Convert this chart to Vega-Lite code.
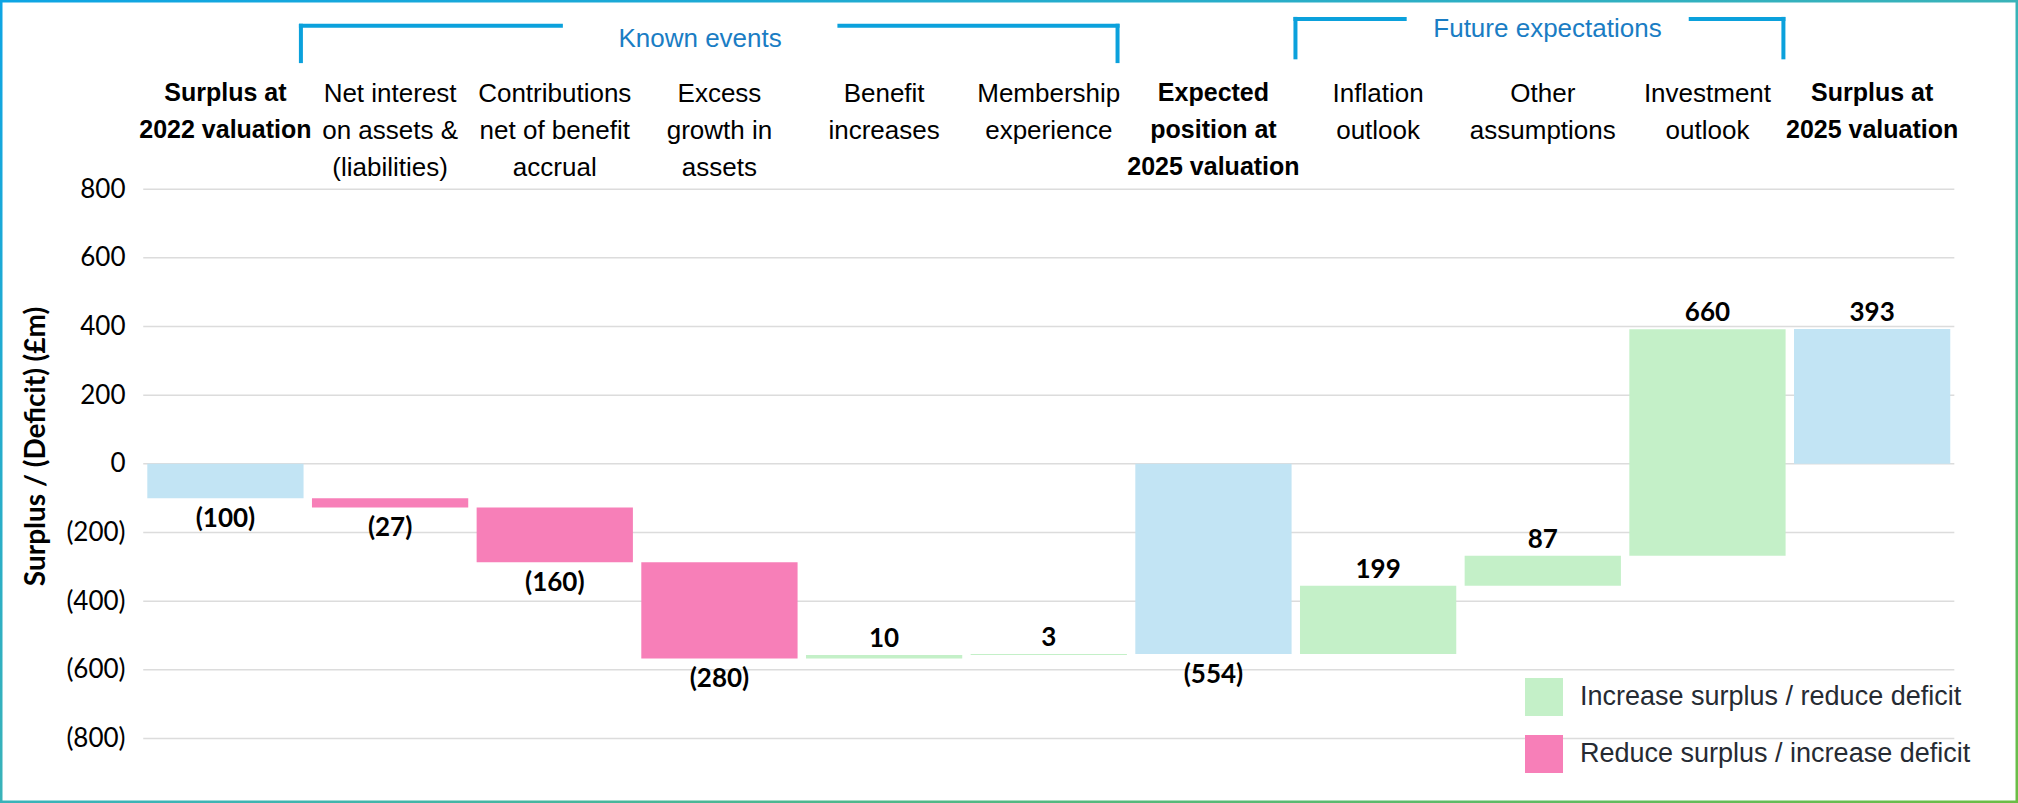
{
  "$schema": "https://vega.github.io/schema/vega-lite/v6.json",
  "width": 2018,
  "height": 803,
  "autosize": {"type": "none"},
  "padding": 0,
  "background": "white",
  "view": {
    "stroke": {"gradient": "linear", "x1": 0, "y1": 0, "x2": 1, "y2": 1,
      "stops": [{"offset": 0, "color": "#0ea5e4"}, {"offset": 0.55, "color": "#3db4b4"}, {"offset": 1, "color": "#6cbd45"}]},
    "strokeWidth": 5
  },
  "config": {"axisX": {"disable": true}},
  "datasets": {
    "steps": [
      {"cat": "Surplus at|2022 valuation", "start": 0, "end": -100, "value": -100, "type": "total"},
      {"cat": "Net interest|on assets &|(liabilities)", "start": -100, "end": -127, "value": -27, "type": "decrease"},
      {"cat": "Contributions|net of benefit|accrual", "start": -127, "end": -287, "value": -160, "type": "decrease"},
      {"cat": "Excess|growth in|assets", "start": -287, "end": -567, "value": -280, "type": "decrease"},
      {"cat": "Benefit|increases", "start": -567, "end": -557, "value": 10, "type": "increase"},
      {"cat": "Membership|experience", "start": -557, "end": -554, "value": 3, "type": "increase"},
      {"cat": "Expected|position at|2025 valuation", "start": 0, "end": -554, "value": -554, "type": "total"},
      {"cat": "Inflation|outlook", "start": -554, "end": -355, "value": 199, "type": "increase"},
      {"cat": "Other|assumptions", "start": -355, "end": -268, "value": 87, "type": "increase"},
      {"cat": "Investment|outlook", "start": -268, "end": 392, "value": 660, "type": "increase"},
      {"cat": "Surplus at|2025 valuation", "start": 0, "end": 393, "value": 393, "type": "total"}
    ],
    "grid": [{"g": -800}, {"g": -600}, {"g": -400}, {"g": -200}, {"g": 0}, {"g": 200}, {"g": 400}, {"g": 600}, {"g": 800}]
  },
  "data": {"name": "steps"},
  "layer": [
    {
      "data": {"name": "grid"},
      "mark": {"type": "rule", "color": "#dcdcdc", "strokeWidth": 1.5},
      "encoding": {
        "x": {"datum": "Surplus at|2022 valuation", "type": "nominal", "bandPosition": -0.026},
        "x2": {"datum": "Surplus at|2025 valuation", "bandPosition": 1.026},
        "y": {"field": "g", "type": "quantitative"}
      }
    },
    {
      "mark": {"type": "bar"},
      "encoding": {
        "x": {"field": "cat", "type": "nominal", "axis": null,
          "scale": {"domain": ["Surplus at|2022 valuation", "Net interest|on assets &|(liabilities)", "Contributions|net of benefit|accrual", "Excess|growth in|assets", "Benefit|increases", "Membership|experience", "Expected|position at|2025 valuation", "Inflation|outlook", "Other|assumptions", "Investment|outlook", "Surplus at|2025 valuation"],
            "paddingInner": 0.051, "paddingOuter": 0.6529, "align": 0.685}},
        "y": {"field": "start", "type": "quantitative",
          "scale": {"domain": [-988, 1351], "nice": false, "zero": false},
          "axis": {"title": "Surplus / (Deficit) (£m)", "values": [-800, -600, -400, -200, 0, 200, 400, 600, 800],
            "labelExpr": "datum.value < 0 ? '(' + (-datum.value) + ')' : '' + datum.value",
            "offset": -143, "grid": false, "domain": false, "ticks": false, "tickSize": 0, "labelPadding": 18,
            "labelFont": "Lato", "labelFontSize": 26, "labelColor": "#000000",
            "titleFont": "Lato", "titleFontSize": 28, "titleFontWeight": "bold", "titleColor": "#000000",
            "titleX": -107, "titleY": 446, "titleAngle": 270, "titleAlign": "center", "titleBaseline": "middle"}},
        "y2": {"field": "end"},
        "color": {"field": "type", "type": "nominal",
          "scale": {"domain": ["total", "increase", "decrease"], "range": ["#c2e4f4", "#c4f0c8", "#f77fb8"]},
          "legend": {"values": ["increase", "decrease"], "orient": "none", "legendX": 1525, "legendY": 678, "title": null,
            "symbolType": "square", "symbolSize": 1444, "symbolStrokeWidth": 0, "symbolOpacity": 1,
            "labelFont": "Liberation Sans", "labelFontSize": 27, "labelColor": "#262b33", "labelOffset": 17,
            "rowPadding": 19, "padding": 0, "labelLimit": 600,
            "labelExpr": "datum.value == 'increase' ? 'Increase surplus / reduce deficit' : 'Reduce surplus / increase deficit'"}}
      }
    },
    {
      "transform": [{"filter": "datum.value < 0"}, {"calculate": "'(' + (-datum.value) + ')'", "as": "label"}],
      "mark": {"type": "text", "font": "Lato", "fontWeight": "bold", "fontSize": 26, "baseline": "middle", "dy": 21, "color": "#000000"},
      "encoding": {
        "x": {"field": "cat", "type": "nominal"},
        "y": {"field": "end", "type": "quantitative"},
        "text": {"field": "label"}
      }
    },
    {
      "transform": [{"filter": "datum.value >= 0"}, {"calculate": "'' + datum.value", "as": "label"}],
      "mark": {"type": "text", "font": "Lato", "fontWeight": "bold", "fontSize": 26, "baseline": "middle", "dy": -16, "color": "#000000"},
      "encoding": {
        "x": {"field": "cat", "type": "nominal"},
        "y": {"field": "end", "type": "quantitative"},
        "text": {"field": "label"}
      }
    },
    {
      "transform": [{"filter": "datum.type != 'total'"}],
      "mark": {"type": "text", "font": "Liberation Sans", "fontSize": 26, "lineHeight": 37, "lineBreak": "|", "baseline": "top", "align": "center", "color": "#000000"},
      "encoding": {
        "x": {"field": "cat", "type": "nominal"},
        "y": {"datum": 1115, "type": "quantitative"},
        "text": {"field": "cat"}
      }
    },
    {
      "transform": [{"filter": "datum.type == 'total'"}],
      "mark": {"type": "text", "font": "Liberation Sans", "fontWeight": "bold", "fontSize": 25, "lineHeight": 37, "lineBreak": "|", "baseline": "top", "align": "center", "color": "#000000"},
      "encoding": {
        "x": {"field": "cat", "type": "nominal"},
        "y": {"datum": 1115, "type": "quantitative"},
        "text": {"field": "cat"}
      }
    },
    {
      "data": {"values": [{}]},
      "mark": {"type": "rule", "color": "#0ba1dc", "strokeWidth": 4, "strokeCap": "square"},
      "encoding": {
        "x": {"datum": "Surplus at|2022 valuation", "type": "nominal", "bandPosition": 0.983},
        "y": {"datum": 1276, "type": "quantitative"},
        "y2": {"datum": 1173}
      }
    },
    {
      "data": {"values": [{}]},
      "mark": {"type": "rule", "color": "#0ba1dc", "strokeWidth": 4, "strokeCap": "square"},
      "encoding": {
        "x": {"datum": "Surplus at|2022 valuation", "type": "nominal", "bandPosition": 0.983},
        "x2": {"datum": "Contributions|net of benefit|accrual", "bandPosition": 0.539},
        "y": {"datum": 1276, "type": "quantitative"}
      }
    },
    {
      "data": {"values": [{}]},
      "mark": {"type": "rule", "color": "#0ba1dc", "strokeWidth": 4, "strokeCap": "square"},
      "encoding": {
        "x": {"datum": "Benefit|increases", "type": "nominal", "bandPosition": 0.214},
        "x2": {"datum": "Membership|experience", "bandPosition": 0.94},
        "y": {"datum": 1276, "type": "quantitative"}
      }
    },
    {
      "data": {"values": [{}]},
      "mark": {"type": "rule", "color": "#0ba1dc", "strokeWidth": 4, "strokeCap": "square"},
      "encoding": {
        "x": {"datum": "Membership|experience", "type": "nominal", "bandPosition": 0.94},
        "y": {"datum": 1276, "type": "quantitative"},
        "y2": {"datum": 1173}
      }
    },
    {
      "data": {"values": [{}]},
      "mark": {"type": "rule", "color": "#0ba1dc", "strokeWidth": 4, "strokeCap": "square"},
      "encoding": {
        "x": {"datum": "Inflation|outlook", "type": "nominal", "bandPosition": -0.029},
        "y": {"datum": 1296, "type": "quantitative"},
        "y2": {"datum": 1184}
      }
    },
    {
      "data": {"values": [{}]},
      "mark": {"type": "rule", "color": "#0ba1dc", "strokeWidth": 4, "strokeCap": "square"},
      "encoding": {
        "x": {"datum": "Inflation|outlook", "type": "nominal", "bandPosition": -0.029},
        "x2": {"datum": "Inflation|outlook", "bandPosition": 0.67},
        "y": {"datum": 1296, "type": "quantitative"}
      }
    },
    {
      "data": {"values": [{}]},
      "mark": {"type": "rule", "color": "#0ba1dc", "strokeWidth": 4, "strokeCap": "square"},
      "encoding": {
        "x": {"datum": "Investment|outlook", "type": "nominal", "bandPosition": 0.393},
        "x2": {"datum": "Investment|outlook", "bandPosition": 0.986},
        "y": {"datum": 1296, "type": "quantitative"}
      }
    },
    {
      "data": {"values": [{}]},
      "mark": {"type": "rule", "color": "#0ba1dc", "strokeWidth": 4, "strokeCap": "square"},
      "encoding": {
        "x": {"datum": "Investment|outlook", "type": "nominal", "bandPosition": 0.986},
        "y": {"datum": 1296, "type": "quantitative"},
        "y2": {"datum": 1184}
      }
    },
    {
      "data": {"values": [{"t": "Known events"}]},
      "mark": {"type": "text", "font": "Liberation Sans", "fontSize": 26, "baseline": "alphabetic", "align": "center", "color": "#1a7dc4"},
      "encoding": {
        "x": {"datum": "Excess|growth in|assets", "type": "nominal", "bandPosition": 0.376},
        "y": {"datum": 1215, "type": "quantitative"},
        "text": {"field": "t"}
      }
    },
    {
      "data": {"values": [{"t": "Future expectations"}]},
      "mark": {"type": "text", "font": "Liberation Sans", "fontSize": 26, "baseline": "alphabetic", "align": "center", "color": "#1a7dc4"},
      "encoding": {
        "x": {"datum": "Other|assumptions", "type": "nominal", "bandPosition": 0.53},
        "y": {"datum": 1244, "type": "quantitative"},
        "text": {"field": "t"}
      }
    }
  ]
}
